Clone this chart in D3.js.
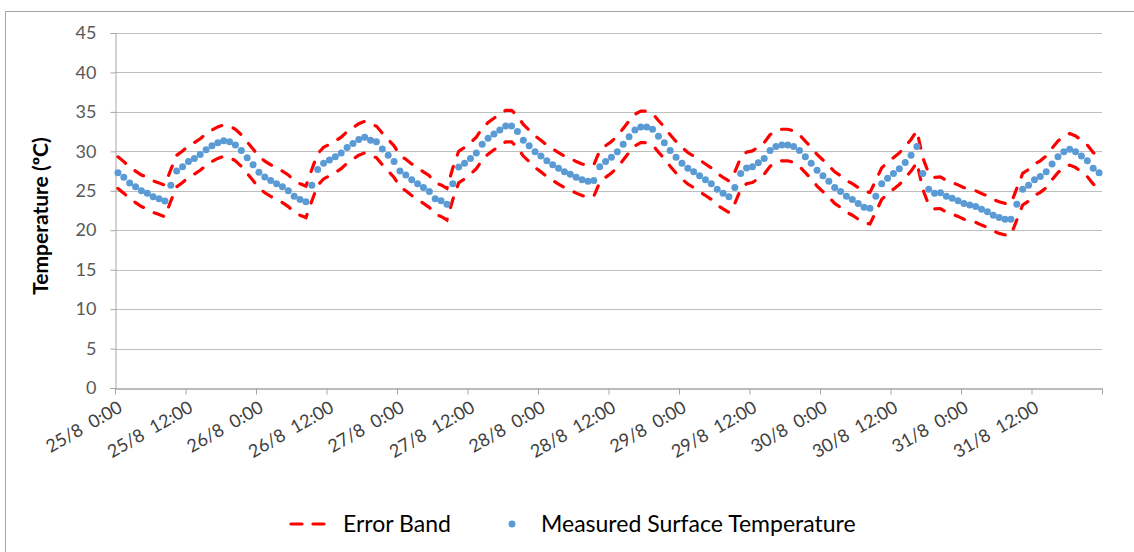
<!DOCTYPE html>
<html>
<head>
<meta charset="utf-8">
<script src="https://cdn.jsdelivr.net/npm/d3@7"></script>
<style>
  body { margin: 0; background: #fff; }
  svg { display: block; font-family: Lato, "Open Sans", sans-serif; }
</style>
</head>
<body>
<div id="chart"></div>
<script>
// hourly readings, first reading half an hour after 25/8 0:00
var tickLabels = ["25/8  0:00", "25/8  12:00", "26/8  0:00", "26/8  12:00", "27/8  0:00", "27/8  12:00",
  "28/8  0:00", "28/8  12:00", "29/8  0:00", "29/8  12:00", "30/8  0:00", "30/8  12:00", "31/8  0:00", "31/8  12:00"];
var yTicks = [0, 5, 10, 15, 20, 25, 30, 35, 40, 45];

var measured = [
  27.3, 26.7, 26.0, 25.5, 25.0, 24.7, 24.25, 24.0, 23.7, 25.7,
  27.5, 28.05, 28.7, 29.1, 29.6, 30.2, 30.7, 31.1, 31.35, 31.2,
  30.8, 30.1, 29.2, 28.3, 27.35, 26.75, 26.3, 25.9, 25.5, 25.0,
  24.3, 23.9, 23.6, 25.7, 27.7, 28.5, 28.9, 29.3, 29.8, 30.5,
  31.0, 31.5, 31.8, 31.4, 31.2, 30.3, 29.5, 28.7, 27.5, 27.0,
  26.4, 25.9, 25.4, 24.9, 24.0, 23.75, 23.3, 25.9, 28.0, 28.5,
  29.1, 29.8, 30.9, 31.65, 32.2, 32.7, 33.2, 33.2, 32.5, 31.4,
  30.7, 29.95, 29.4, 28.8, 28.3, 27.85, 27.4, 27.1, 26.7, 26.4,
  26.2, 26.3, 28.05, 28.7, 29.25, 29.95, 30.9, 31.85, 32.7, 33.1,
  33.1, 32.8, 31.9, 31.1, 30.1, 29.25, 28.5, 27.85, 27.4, 26.9,
  26.4, 25.9, 25.2, 24.7, 24.25, 25.4, 27.2, 27.9, 28.05, 28.55,
  29.1, 30.1, 30.6, 30.8, 30.8, 30.6, 30.1, 29.3, 28.5, 27.6,
  26.9, 26.2, 25.4, 24.9, 24.3, 23.9, 23.4, 22.9, 22.8, 24.3,
  25.9, 26.6, 27.2, 27.8, 28.6, 29.5, 30.6, 27.2, 25.2, 24.7,
  24.75, 24.3, 24.05, 23.75, 23.4, 23.2, 23.0, 22.65, 22.35, 21.9,
  21.6, 21.4, 21.4, 23.3, 25.2, 25.7, 26.4, 26.8, 27.4, 28.4,
  29.3, 29.95, 30.25, 29.95, 29.4, 28.8, 27.85, 27.3
];

var bandUpper = [
  29.3, 28.7, 28.0, 27.5, 27.0, 26.7, 26.25, 26.0, 25.7, 27.7,
  29.5, 30.05, 30.7, 31.1, 31.6, 32.2, 32.7, 33.1, 33.35, 33.2,
  32.8, 32.1, 31.2, 30.3, 29.35, 28.75, 28.3, 27.9, 27.5, 27.0,
  26.3, 25.9, 25.6, 27.7, 29.7, 30.5, 30.9, 31.3, 31.8, 32.5,
  33.0, 33.5, 33.8, 33.4, 33.2, 32.3, 31.5, 30.7, 29.5, 29.0,
  28.4, 27.9, 27.4, 26.9, 26.0, 25.75, 25.3, 27.9, 30.0, 30.5,
  31.1, 31.8, 32.9, 33.65, 34.2, 34.7, 35.2, 35.2, 34.5, 33.4,
  32.7, 31.95, 31.4, 30.8, 30.3, 29.85, 29.4, 29.1, 28.7, 28.4,
  28.2, 28.3, 30.05, 30.7, 31.25, 31.95, 32.9, 33.85, 34.7, 35.1,
  35.1, 34.8, 33.9, 33.1, 32.1, 31.25, 30.5, 29.85, 29.4, 28.9,
  28.4, 27.9, 27.2, 26.7, 26.25, 27.4, 29.2, 29.9, 30.05, 30.55,
  31.1, 32.1, 32.6, 32.8, 32.8, 32.6, 32.1, 31.3, 30.5, 29.6,
  28.9, 28.2, 27.4, 26.9, 26.3, 25.9, 25.4, 24.9, 24.8, 26.3,
  27.9, 28.6, 29.2, 29.8, 30.6, 31.5, 32.6, 29.2, 27.2, 26.7,
  26.75, 26.3, 26.05, 25.75, 25.4, 25.2, 25.0, 24.65, 24.35, 23.9,
  23.6, 23.4, 23.4, 25.3, 27.2, 27.7, 28.4, 28.8, 29.4, 30.4,
  31.3, 31.95, 32.25, 31.95, 31.4, 30.8, 29.85, 29.3
];

var bandLower = [
  25.3, 24.7, 24.0, 23.5, 23.0, 22.7, 22.25, 22.0, 21.7, 23.7,
  25.5, 26.05, 26.7, 27.1, 27.6, 28.2, 28.7, 29.1, 29.35, 29.2,
  28.8, 28.1, 27.2, 26.3, 25.35, 24.75, 24.3, 23.9, 23.5, 23.0,
  22.3, 21.9, 21.6, 23.7, 25.7, 26.5, 26.9, 27.3, 27.8, 28.5,
  29.0, 29.5, 29.8, 29.4, 29.2, 28.3, 27.5, 26.7, 25.5, 25.0,
  24.4, 23.9, 23.4, 22.9, 22.0, 21.75, 21.3, 23.9, 26.0, 26.5,
  27.1, 27.8, 28.9, 29.65, 30.2, 30.7, 31.2, 31.2, 30.5, 29.4,
  28.7, 27.95, 27.4, 26.8, 26.3, 25.85, 25.4, 25.1, 24.7, 24.4,
  24.2, 24.3, 26.05, 26.7, 27.25, 27.95, 28.9, 29.85, 30.7, 31.1,
  31.1, 30.8, 29.9, 29.1, 28.1, 27.25, 26.5, 25.85, 25.4, 24.9,
  24.4, 23.9, 23.2, 22.7, 22.25, 23.4, 25.2, 25.9, 26.05, 26.55,
  27.1, 28.1, 28.6, 28.8, 28.8, 28.6, 28.1, 27.3, 26.5, 25.6,
  24.9, 24.2, 23.4, 22.9, 22.3, 21.9, 21.4, 20.9, 20.8, 22.3,
  23.9, 24.6, 25.2, 25.8, 26.6, 27.5, 28.6, 25.2, 23.2, 22.7,
  22.75, 22.3, 22.05, 21.75, 21.4, 21.2, 21.0, 20.65, 20.35, 19.9,
  19.6, 19.4, 19.4, 21.3, 23.2, 23.7, 24.4, 24.8, 25.4, 26.4,
  27.3, 27.95, 28.25, 27.95, 27.4, 26.8, 25.85, 25.3
];

var W = 1134, H = 552;
var margin = {top: 33, right: 32, bottom: 164, left: 115};
var w = W - margin.left - margin.right,
    h = H - margin.top - margin.bottom;

var svg = d3.select("#chart").append("svg")
    .attr("width", W)
    .attr("height", H);

// outer chart frame
svg.append("rect")
    .attr("x", 5.5).attr("y", 11.5)
    .attr("width", W + 20).attr("height", H + 20)
    .style("fill", "none")
    .style("stroke", "#A6A6A6")
    .style("stroke-width", 1);

var g = svg.append("g")
    .attr("transform", "translate(" + margin.left + "," + margin.top + ")");

var x = d3.scaleLinear().domain([0, 168]).range([0, w]);
var y = d3.scaleLinear().domain([0, 45]).range([h, 0]);

// gridlines
g.append("g").selectAll("line")
    .data(yTicks.slice(1))
    .enter().append("line")
    .attr("x1", 0).attr("x2", w)
    .attr("y1", function(d){ return Math.round(y(d)) + 0.5; })
    .attr("y2", function(d){ return Math.round(y(d)) + 0.5; })
    .style("stroke", "#BFBFBF")
    .style("stroke-width", 1);

// y axis
var yAxis = g.append("g")
    .attr("transform", "translate(0.5,0)")
    .call(d3.axisLeft(y).tickValues(yTicks).tickSize(5).tickPadding(14));
yAxis.select(".domain").style("stroke", "#A6A6A6");
yAxis.selectAll(".tick line").style("stroke", "#A6A6A6");
yAxis.selectAll("text")
    .style("font-size", "18px")
    .style("fill", "#595959")
    .style("font-family", "Lato, sans-serif");

// x axis
var xAxis = g.append("g")
    .attr("transform", "translate(0," + (h + 0.5) + ")")
    .call(d3.axisBottom(x)
      .tickValues(d3.range(0, 169, 12))
      .tickSize(6)
      .tickSizeOuter(0)
      .tickFormat(function(d, i){ return tickLabels[i] || ""; }));
xAxis.select(".domain").style("stroke", "#A6A6A6").style("stroke-width", 1.5);
xAxis.selectAll(".tick line").style("stroke", "#A6A6A6");
xAxis.selectAll("text")
    .style("font-size", "18px")
    .style("fill", "#404040")
    .style("font-family", "Lato, sans-serif")
    .style("white-space", "pre")
    .attr("text-anchor", "end")
    .attr("dy", "0.35em")
    .attr("y", 0)
    .attr("transform", "translate(5,17) rotate(-30)");

// y title
svg.append("text")
    .attr("transform", "translate(48,216) rotate(-90)")
    .attr("text-anchor", "middle")
    .style("font-size", "21px")
    .style("font-weight", "bold")
    .style("fill", "#000")
    .text("Temperature (ºC)");

var hourOf = function(i){ return i + 0.5; };

var bandLine = d3.line()
    .x(function(d, i){ return x(hourOf(i)); })
    .y(function(d){ return y(d); });

[bandUpper, bandLower].forEach(function(band){
  g.append("path")
      .datum(band)
      .attr("d", bandLine)
      .style("fill", "none")
      .style("stroke", "#FF0000")
      .style("stroke-width", 3.2)
      .style("stroke-linecap", "round")
      .style("stroke-dasharray", "10,12");
});

g.append("g").selectAll("circle")
    .data(measured)
    .enter().append("circle")
    .attr("cx", function(d, i){ return x(hourOf(i)); })
    .attr("cy", function(d){ return y(d); })
    .attr("r", 3.5)
    .style("fill", "#5B9BD5");

// legend
var legend = svg.append("g").attr("transform", "translate(0,524)");
legend.append("line")
    .attr("x1", 291).attr("x2", 327)
    .style("stroke", "#FF0000")
    .style("stroke-width", 3.2)
    .style("stroke-linecap", "round")
    .style("stroke-dasharray", "11,11");
legend.append("text")
    .attr("x", 343).attr("dy", "0.35em")
    .style("font-size", "23px")
    .style("fill", "#000")
    .text("Error Band");
legend.append("circle")
    .attr("cx", 512).attr("r", 3.5)
    .style("fill", "#5B9BD5");
legend.append("text")
    .attr("x", 541).attr("dy", "0.35em")
    .style("font-size", "23px")
    .style("fill", "#000")
    .text("Measured Surface Temperature");
</script>
</body>
</html>
